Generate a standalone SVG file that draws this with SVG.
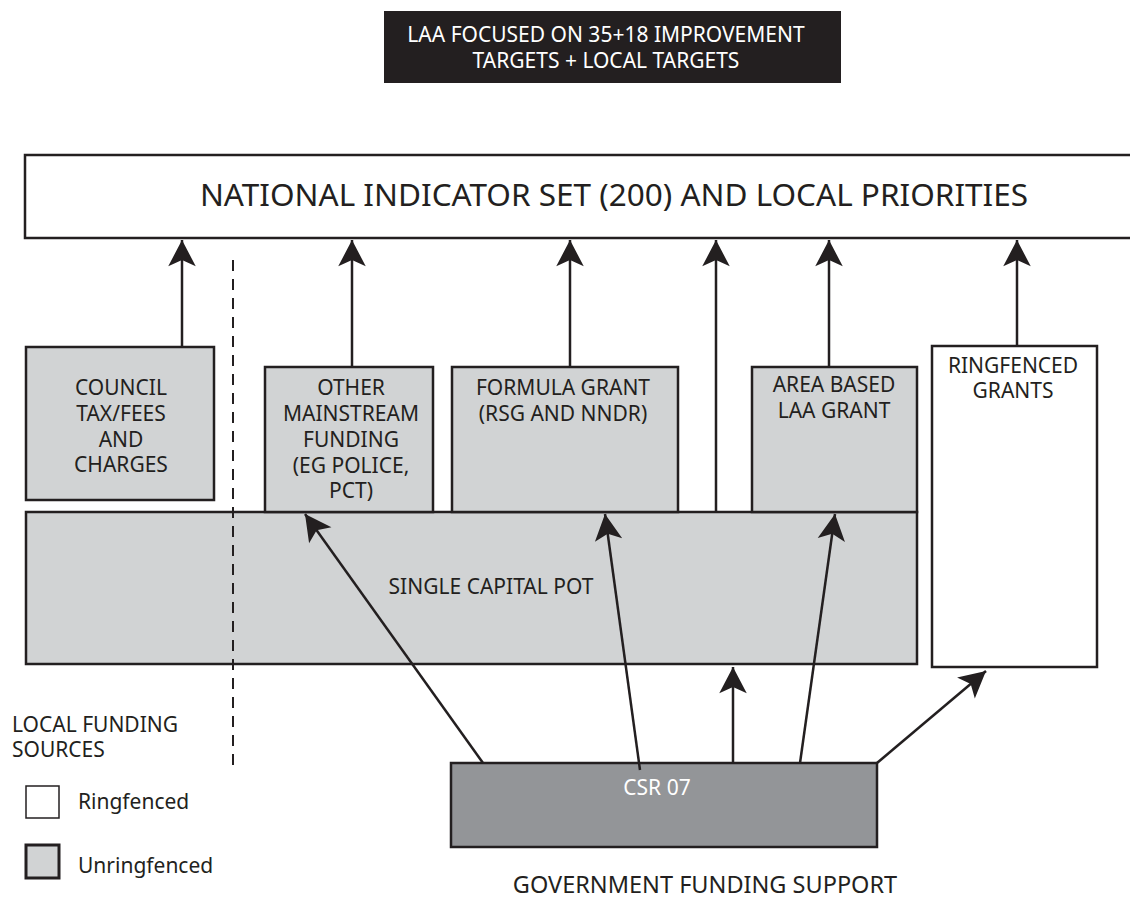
<svg xmlns="http://www.w3.org/2000/svg" width="1130" height="897" viewBox="0 0 1130 897">
  <style>
    text { font-family: "Noto Sans", "Liberation Sans", sans-serif; fill: #231f20; }
    .lbl { font-size: 21px; text-anchor: middle; }
    .leg { font-size: 21px; }
    .box { stroke: #231f20; stroke-width: 2.5; }
    .grey { fill: #d1d3d4; }
    .white { fill: #ffffff; }
    .conn line { stroke: #231f20; stroke-width: 2.5; }
  </style>
  <defs>
    <marker id="head" markerUnits="userSpaceOnUse" markerWidth="30" markerHeight="30" viewBox="-22 -12 24 24" refX="0" refY="0" orient="auto">
      <path d="M0,0 L-21,-11 L-16,0 L-21,11 Z" fill="#231f20"/>
    </marker>
  </defs>
  <rect width="1130" height="897" fill="#ffffff"/>

  <!-- Banner -->
  <g id="banner">
    <rect x="384" y="11" width="457" height="72" fill="#231f20"/>
    <text class="lbl" x="606" y="42" style="fill:#ffffff">LAA FOCUSED ON 35+18 IMPROVEMENT</text>
    <text class="lbl" x="606" y="68" style="fill:#ffffff">TARGETS + LOCAL TARGETS</text>
  </g>

  <!-- Indicator set (runs off the right edge) -->
  <g id="indicators">
    <rect class="box white" x="25" y="155" width="1120" height="83"/>
    <text x="614" y="206" style="font-size:31.5px;text-anchor:middle">NATIONAL INDICATOR SET (200) AND LOCAL PRIORITIES</text>
  </g>

  <!-- Single capital pot -->
  <g id="capital-pot">
    <rect class="box grey" x="26" y="512" width="891" height="152"/>
    <text class="lbl" x="491" y="594">SINGLE CAPITAL POT</text>
  </g>

  <g id="council-tax">
    <rect class="box grey" x="26" y="347" width="188" height="153"/>
    <text class="lbl" x="121" y="395">COUNCIL</text>
    <text class="lbl" x="121" y="421">TAX/FEES</text>
    <text class="lbl" x="121" y="447">AND</text>
    <text class="lbl" x="121" y="472">CHARGES</text>
  </g>

  <g id="other-mainstream">
    <rect class="box grey" x="265" y="367" width="168" height="145"/>
    <text class="lbl" x="351" y="395">OTHER</text>
    <text class="lbl" x="351" y="421">MAINSTREAM</text>
    <text class="lbl" x="351" y="447">FUNDING</text>
    <text class="lbl" x="351" y="473">(EG POLICE,</text>
    <text class="lbl" x="351" y="498">PCT)</text>
  </g>

  <g id="formula-grant">
    <rect class="box grey" x="452" y="367" width="226" height="145"/>
    <text class="lbl" x="563" y="395">FORMULA GRANT</text>
    <text class="lbl" x="563" y="421">(RSG AND NNDR)</text>
  </g>

  <g id="area-based">
    <rect class="box grey" x="752" y="367" width="165" height="145"/>
    <text class="lbl" x="834" y="392">AREA BASED</text>
    <text class="lbl" x="834" y="418">LAA GRANT</text>
  </g>

  <g id="ringfenced-grants">
    <rect class="box white" x="932" y="346" width="165" height="321"/>
    <text class="lbl" x="1013" y="373">RINGFENCED</text>
    <text class="lbl" x="1013" y="398">GRANTS</text>
  </g>

  <g id="csr07">
    <rect class="box" x="451" y="763" width="426" height="84" fill="#939598"/>
    <text class="lbl" x="657" y="795" style="fill:#ffffff">CSR 07</text>
  </g>

  <text x="705" y="893" style="font-size:23.5px;text-anchor:middle">GOVERNMENT FUNDING SUPPORT</text>

  <!-- Local / government funding divider -->
  <line x1="233" y1="260" x2="233" y2="773" stroke="#231f20" stroke-width="2" stroke-dasharray="11,8"/>

  <!-- Legend -->
  <g id="legend">
    <text class="leg" x="12" y="732">LOCAL FUNDING</text>
    <text class="leg" x="12" y="757">SOURCES</text>
    <rect x="26" y="786" width="33" height="32" fill="#ffffff" stroke="#231f20" stroke-width="1.5"/>
    <text class="leg" x="78" y="809">Ringfenced</text>
    <rect x="26" y="845" width="33" height="33" fill="#d1d3d4" stroke="#231f20" stroke-width="3"/>
    <text class="leg" x="78" y="873">Unringfenced</text>
  </g>

  <!-- Connectors -->
  <g class="conn" id="connectors">
    <line x1="182" y1="347" x2="182" y2="240" marker-end="url(#head)"/>
    <line x1="352" y1="367" x2="352" y2="240" marker-end="url(#head)"/>
    <line x1="570" y1="367" x2="570" y2="240" marker-end="url(#head)"/>
    <line x1="716" y1="512" x2="716" y2="240" marker-end="url(#head)"/>
    <line x1="829" y1="367" x2="829" y2="240" marker-end="url(#head)"/>
    <line x1="1017" y1="346" x2="1017" y2="240" marker-end="url(#head)"/>
    <line x1="483" y1="763" x2="305" y2="514" marker-end="url(#head)"/>
    <line x1="640" y1="770" x2="605" y2="514" marker-end="url(#head)"/>
    <line x1="733" y1="763" x2="733" y2="667" marker-end="url(#head)"/>
    <line x1="800" y1="763" x2="835" y2="514" marker-end="url(#head)"/>
    <line x1="877" y1="763" x2="986" y2="671" marker-end="url(#head)"/>
  </g>
</svg>
